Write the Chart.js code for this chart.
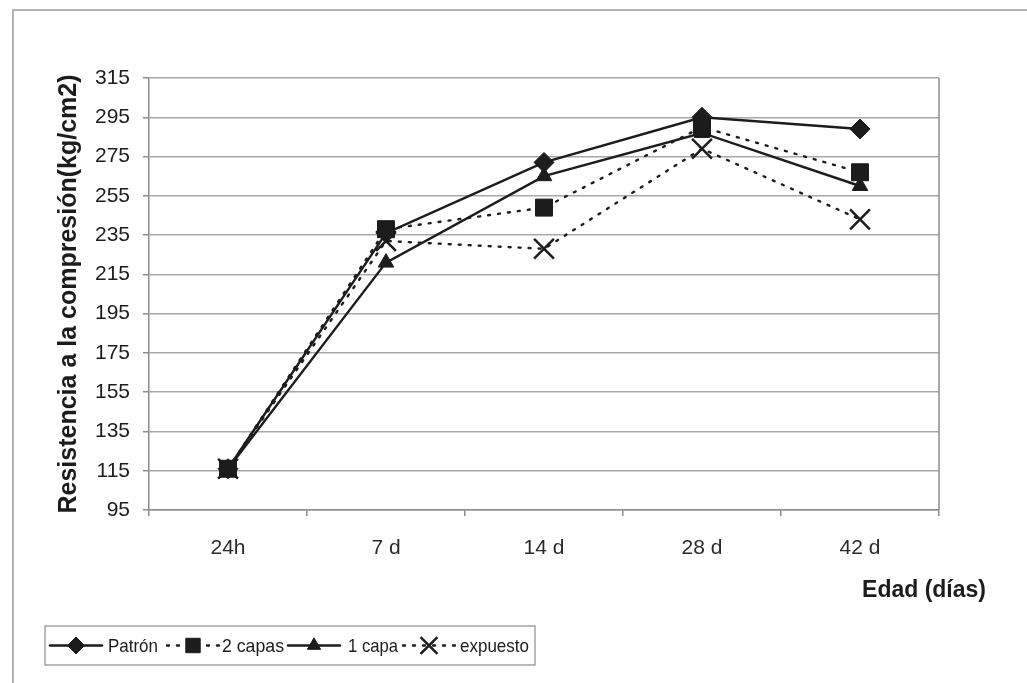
<!DOCTYPE html>
<html>
<head>
<meta charset="utf-8">
<script src="https://cdn.jsdelivr.net/npm/chart.js@4/dist/chart.umd.min.js"></script>
<style>
  html, body { margin: 0; padding: 0; background: #fff; }
  #wrap { width: 1027px; height: 683px; position: relative; }
</style>
</head>
<body>
<div id="wrap"><canvas id="c" width="1027" height="683"></canvas></div>
<script>
// Compressive strength by curing age
const categories = ['24h', '7 d', '14 d', '28 d', '42 d'];
const patron   = [116, 236, 272, 295, 289];
const dosCapas = [116, 238, 249, 290, 267];
const unaCapa  = [116, 221, 265, 287, 260];
const expuesto = [116, 232, 228, 279, 243];
const yTicks = [95, 115, 135, 155, 175, 195, 215, 235, 255, 275, 295, 315];

const FONT = '"Liberation Sans", Arial, sans-serif';
const INK = '#1c1c1c';

const series = [
  { label: 'Patrón',   data: patron,   dash: [],     style: 'rectRot',  r: 10, bw: 1 },
  { label: '2 capas',  data: dosCapas, dash: [2, 8], style: 'rect',     r: 12, bw: 1 },
  { label: '1 capa',   data: unaCapa,  dash: [],     style: 'triangle', r: 9,  bw: 1 },
  { label: 'expuesto', data: expuesto, dash: [2, 8], style: 'crossRot', r: 14, bw: 2.5 }
];

const datasets = series.map(s => ({
  label: s.label,
  data: s.data,
  borderColor: INK,
  backgroundColor: INK,
  borderWidth: 2.4,
  borderDash: s.dash,
  borderCapStyle: 'round',
  pointStyle: s.style,
  pointRadius: s.r,
  pointHoverRadius: s.r,
  pointBorderWidth: s.bw,
  pointBorderColor: INK,
  pointBackgroundColor: INK,
  tension: 0
}));

// Outer frame, plot border, x-axis title and the boxed legend
const decor = {
  id: 'decor',
  beforeDraw(chart) {
    const ctx = chart.ctx;
    ctx.save();
    ctx.fillStyle = '#fff';
    ctx.fillRect(0, 0, chart.width, chart.height);
    ctx.strokeStyle = '#9a9a9a';
    ctx.lineWidth = 1.5;
    ctx.strokeRect(13, 10, 1100, 800);
    ctx.restore();
  },
  afterDraw(chart) {
    const ctx = chart.ctx;
    const a = chart.chartArea;
    ctx.save();
    // right border of plot area
    ctx.strokeStyle = '#8c8c8c';
    ctx.lineWidth = 1.5;
    ctx.beginPath();
    ctx.moveTo(a.right, a.top);
    ctx.lineTo(a.right, a.bottom);
    ctx.stroke();

    // x-axis title
    ctx.fillStyle = INK;
    ctx.font = 'bold 23px ' + FONT;
    ctx.textAlign = 'right';
    ctx.textBaseline = 'middle';
    ctx.fillText('Edad (días)', 986, 591);

    // legend
    const box = { x: 45, y: 626, w: 490, h: 39 };
    ctx.strokeStyle = '#8c8c8c';
    ctx.lineWidth = 1.2;
    ctx.strokeRect(box.x, box.y, box.w, box.h);
    const cy = box.y + box.h / 2;
    const items = [
      { s: 50,  t: 108, w: 50 },
      { s: 167, t: 222, w: 62 },
      { s: 288, t: 348, w: 50 },
      { s: 403, t: 460, w: 69 }
    ];
    ctx.font = '19px ' + FONT;
    ctx.textAlign = 'left';
    chart.data.datasets.forEach((ds, i) => {
      const it = items[i];
      ctx.save();
      ctx.strokeStyle = INK;
      ctx.lineWidth = 2.4;
      ctx.lineCap = 'round';
      ctx.setLineDash(ds.borderDash);
      ctx.beginPath();
      ctx.moveTo(it.s, cy);
      ctx.lineTo(it.s + 52, cy);
      ctx.stroke();
      ctx.restore();
      ctx.save();
      ctx.fillStyle = INK;
      ctx.strokeStyle = INK;
      ctx.lineWidth = ds.pointBorderWidth;
      Chart.helpers.drawPoint(ctx, {
        pointStyle: ds.pointStyle,
        radius: ds.pointRadius * 0.85,
        rotation: 0,
        borderWidth: ds.pointBorderWidth
      }, it.s + 26, cy);
      ctx.restore();
      ctx.fillStyle = INK;
      ctx.fillText(ds.label, it.t, cy + 1, it.w);
    });
    ctx.restore();
  }
};

new Chart(document.getElementById('c'), {
  type: 'line',
  data: { labels: categories, datasets },
  plugins: [decor],
  options: {
    responsive: false,
    animation: false,
    events: [],
    layout: { padding: { left: 54, right: 88, top: 78, bottom: 0 } },
    plugins: { legend: { display: false }, tooltip: { enabled: false } },
    scales: {
      x: {
        type: 'category',
        offset: true,
        grid: {
          offset: true,
          drawOnChartArea: false,
          drawTicks: true,
          tickLength: 6,
          color: '#8c8c8c',
          lineWidth: 1.5
        },
        border: { display: true, color: '#8c8c8c', width: 1.5 },
        ticks: { color: '#2a2a2a', font: { family: FONT, size: 21 }, padding: 20, maxRotation: 0 },
        afterFit(scale) { scale.height = 173; }
      },
      y: {
        min: 95,
        max: 315,
        afterBuildTicks(scale) { scale.ticks = yTicks.map(v => ({ value: v })); },
        grid: {
          color: '#a8a8a8',
          lineWidth: 1.5,
          drawTicks: true,
          tickLength: 6,
          tickColor: '#8c8c8c'
        },
        border: { display: true, color: '#8c8c8c', width: 1.5 },
        ticks: { color: '#1c1c1c', font: { family: FONT, size: 21 }, padding: 13 },
        title: {
          display: true,
          text: 'Resistencia a la compresión(kg/cm2)',
          color: INK,
          font: { family: FONT, size: 25, weight: 'bold' },
          padding: { top: 0, bottom: 0 }
        },
        afterFit(scale) { scale.width = 95; }
      }
    }
  }
});
</script>
</body>
</html>
